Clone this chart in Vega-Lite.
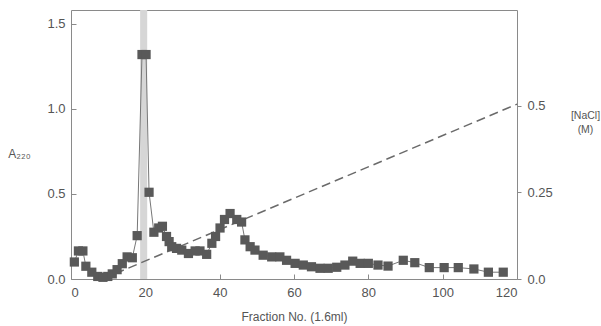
{
  "$schema": "https://vega.github.io/schema/vega-lite/v6.json",
  "width": 446,
  "height": 269,
  "autosize": {"type": "none"},
  "padding": {"left": 71, "top": 10, "right": 84, "bottom": 47},
  "background": "white",
  "config": {
    "view": {"stroke": "#8a8a8a", "strokeWidth": 1},
    "axis": {
      "labelFont": "Liberation Sans",
      "titleFont": "Liberation Sans",
      "labelColor": "#555",
      "titleColor": "#555",
      "labelFontSize": 13,
      "titleFontSize": 12,
      "titleFontWeight": "normal",
      "grid": false,
      "domain": false,
      "tickColor": "#8a8a8a"
    }
  },
  "datasets": {
    "a220": [
      {"f": 0.9, "a": 0.10}, {"f": 2.0, "a": 0.165}, {"f": 3.2, "a": 0.165}, {"f": 4.0, "a": 0.075},
      {"f": 5.6, "a": 0.04}, {"f": 7.2, "a": 0.015}, {"f": 8.6, "a": 0.01}, {"f": 9.9, "a": 0.015},
      {"f": 11.1, "a": 0.03}, {"f": 12.4, "a": 0.055}, {"f": 13.8, "a": 0.09}, {"f": 15.1, "a": 0.13},
      {"f": 16.5, "a": 0.125}, {"f": 17.8, "a": 0.255}, {"f": 19.1, "a": 1.32}, {"f": 20.2, "a": 1.32},
      {"f": 21.0, "a": 0.51}, {"f": 22.3, "a": 0.275}, {"f": 23.6, "a": 0.30}, {"f": 24.6, "a": 0.31},
      {"f": 25.7, "a": 0.25}, {"f": 26.4, "a": 0.22}, {"f": 27.1, "a": 0.19}, {"f": 28.4, "a": 0.18},
      {"f": 29.8, "a": 0.17}, {"f": 31.6, "a": 0.15}, {"f": 33.4, "a": 0.165}, {"f": 34.7, "a": 0.165},
      {"f": 36.5, "a": 0.145}, {"f": 37.9, "a": 0.21}, {"f": 38.9, "a": 0.25}, {"f": 40.1, "a": 0.30},
      {"f": 41.3, "a": 0.35}, {"f": 42.8, "a": 0.385}, {"f": 44.6, "a": 0.35}, {"f": 45.9, "a": 0.335},
      {"f": 46.8, "a": 0.23}, {"f": 48.2, "a": 0.19}, {"f": 49.5, "a": 0.17}, {"f": 51.7, "a": 0.14},
      {"f": 54.0, "a": 0.13}, {"f": 56.2, "a": 0.13}, {"f": 58.0, "a": 0.11}, {"f": 60.3, "a": 0.092},
      {"f": 62.5, "a": 0.082}, {"f": 64.7, "a": 0.072}, {"f": 67.0, "a": 0.063}, {"f": 69.2, "a": 0.063},
      {"f": 71.5, "a": 0.069}, {"f": 73.7, "a": 0.082}, {"f": 75.8, "a": 0.105}, {"f": 77.8, "a": 0.092},
      {"f": 80.0, "a": 0.092}, {"f": 82.6, "a": 0.082}, {"f": 85.3, "a": 0.076}, {"f": 89.4, "a": 0.11},
      {"f": 92.5, "a": 0.096}, {"f": 96.4, "a": 0.067}, {"f": 100.4, "a": 0.067}, {"f": 104.2, "a": 0.067},
      {"f": 108.4, "a": 0.059}, {"f": 112.3, "a": 0.04}, {"f": 116.3, "a": 0.04}
    ],
    "nacl": [{"f": 8.5, "m": 0}, {"f": 120, "m": 0.505}],
    "band": [{"f1": 18.6, "f2": 20.5}]
  },
  "encoding": {
    "x": {
      "field": "f", "type": "quantitative",
      "scale": {"domain": [0, 120], "nice": false},
      "axis": {
        "values": [0, 20, 40, 60, 80, 100, 120],
        "format": "d",
        "tickSize": -5,
        "labelPadding": 12,
        "title": "Fraction No. (1.6ml)",
        "titlePadding": 12
      }
    }
  },
  "layer": [
    {
      "data": {"name": "band"},
      "mark": {"type": "rect", "color": "#d6d6d6"},
      "encoding": {
        "x": {"field": "f1", "type": "quantitative"},
        "x2": {"field": "f2"}
      }
    },
    {
      "data": {"name": "nacl"},
      "mark": {"type": "line", "color": "#6a6a6a", "strokeWidth": 1.5, "strokeDash": [9, 5]},
      "encoding": {
        "y": {
          "field": "m", "type": "quantitative",
          "scale": {"domain": [0, 0.777], "nice": false, "zero": true},
          "axis": {
            "orient": "right",
            "values": [0, 0.25, 0.5],
            "labelExpr": "datum.value == 0 ? '0.0' : datum.value == 0.5 ? '0.5' : '0.25'",
            "tickSize": 4,
            "labelPadding": 6,
            "title": ["[NaCl]", "(M)"],
            "titleAngle": 0,
            "titleFontSize": 10.5,
            "titleAlign": "center",
            "titleBaseline": "middle",
            "titleLineHeight": 14,
            "titleX": 68,
            "titleY": 105
          }
        }
      }
    },
    {
      "data": {"name": "a220"},
      "encoding": {
        "y": {
          "field": "a", "type": "quantitative",
          "scale": {"domain": [0, 1.582], "nice": false},
          "axis": {
            "values": [0, 0.5, 1, 1.5],
            "format": ".1f",
            "tickSize": -5,
            "labelPadding": 11,
            "title": "A₂₂₀",
            "titleAngle": 0,
            "titleAlign": "center",
            "titleBaseline": "middle",
            "titleFontSize": 12,
            "titleX": -52,
            "titleY": 143
          }
        }
      },
      "layer": [
        {"mark": {"type": "line", "color": "#777", "strokeWidth": 1}},
        {"mark": {"type": "point", "shape": "square", "filled": true, "size": 85, "color": "#595959", "opacity": 1}}
      ]
    }
  ],
  "resolve": {"scale": {"y": "independent"}}
}
